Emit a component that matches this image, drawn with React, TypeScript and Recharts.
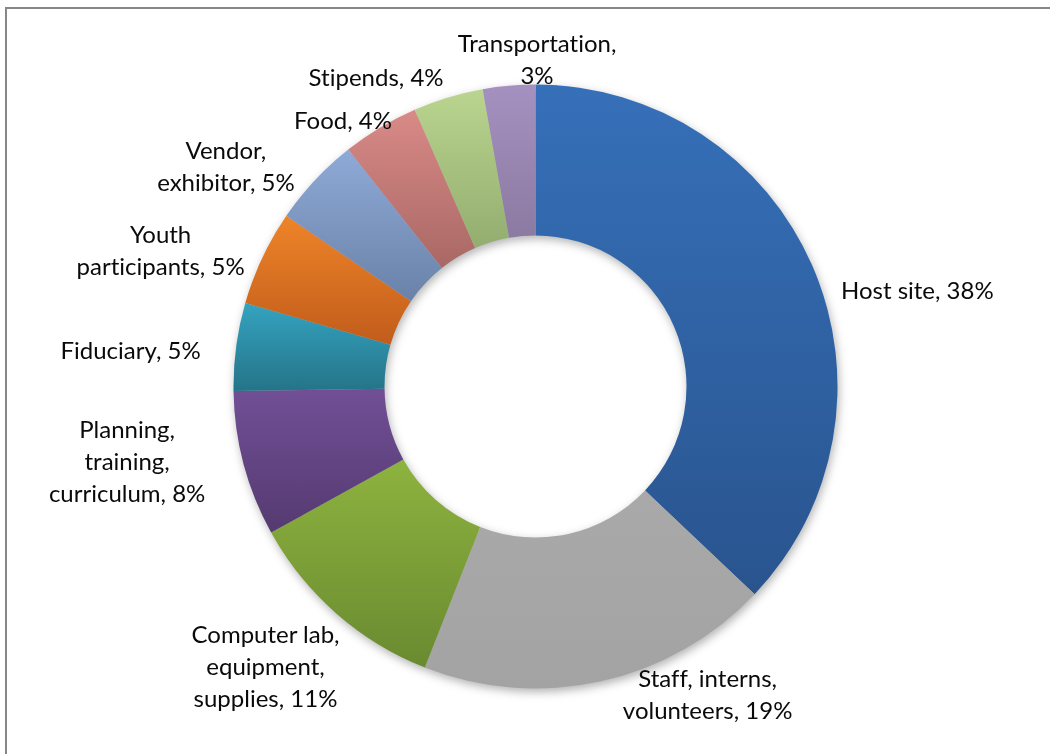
import React from "react";
import { PieChart, Pie, Cell } from "recharts";

// budget shares, clockwise from 12 o'clock
const categories = [
  "Host site",
  "Staff, interns, volunteers",
  "Computer lab, equipment, supplies",
  "Planning, training, curriculum",
  "Fiduciary",
  "Youth participants",
  "Vendor, exhibitor",
  "Food",
  "Stipends",
  "Transportation",
];
const shares = [37.1, 18.9, 11.0, 7.8, 4.7, 5.1, 4.8, 4.1, 3.75, 2.8];
const labelLines = [
  ["Host site, 38%"],
  ["Staff, interns,", "volunteers, 19%"],
  ["Computer lab,", "equipment,", "supplies, 11%"],
  ["Planning,", "training,", "curriculum, 8%"],
  ["Fiduciary, 5%"],
  ["Youth", "participants, 5%"],
  ["Vendor,", "exhibitor, 5%"],
  ["Food, 4%"],
  ["Stipends, 4%"],
  ["Transportation,", "3%"],
];

const data = categories.map((name, i) => ({ name, value: shares[i] }));

// slice gradients (top -> bottom)
const topColors = [
  "#3670b9", "#a9a9a9", "#8db33f", "#714f96", "#34a3c0",
  "#ee8429", "#8eaad7", "#d98a87", "#bad58f", "#a591c0",
];
const bottomColors = [
  "#29548e", "#a3a3a3", "#6a8a30", "#553a70", "#257488",
  "#c15c1b", "#6a82a8", "#a96865", "#92ad6f", "#8b7aa1",
];

// hand placement of Excel's "best fit" labels, relative to mid-angle spot
const labelNudge: [number, number][] = [
  [63, 41], [97, -30], [-41, 20], [-73, -14], [-61, 10],
  [-61, 12], [-56, 17], [-14, 32], [-59, 24], [32, 19],
];

const RAD = Math.PI / 180;
const LINE_H = 32;

const renderLabel = (props: any) => {
  const { cx, cy, midAngle, outerRadius, index } = props;
  const r = outerRadius + 45;
  const [nx, ny] = labelNudge[index];
  const x = cx + r * Math.cos(-midAngle * RAD) + nx;
  const y = cy + r * Math.sin(-midAngle * RAD) + ny;
  const lines = labelLines[index];
  const y0 = y - ((lines.length - 1) * LINE_H) / 2 + 8;
  return (
    <text
      key={`lbl-${index}`}
      x={x}
      y={y0}
      textAnchor="middle"
      fontFamily="Lato, 'Open Sans', sans-serif"
      fontSize={24}
      fill="#0a0a0a"
      style={{ fontVariantLigatures: "none" }}
    >
      {lines.map((l, i) => (
        <tspan key={i} x={x} dy={i === 0 ? 0 : LINE_H}>
          {l}
        </tspan>
      ))}
    </text>
  );
};

export default function App() {
  return (
    <div
      style={{
        position: "fixed",
        left: 0,
        top: 0,
        width: 1050,
        height: 754,
        background: "#fff",
        overflow: "hidden",
      }}
    >
      <style>{`.ring-shadow { filter: url(#ringShadow); }`}</style>
      <div
        style={{
          position: "absolute",
          left: 5,
          top: 7,
          width: 1045,
          height: 747,
          borderTop: "2px solid #878787",
          borderLeft: "2px solid #878787",
          boxSizing: "border-box",
        }}
      />
      <div style={{ position: "absolute", left: 0, top: 0 }}>
        <PieChart
          width={1050}
          height={754}
          margin={{ top: 0, right: 0, bottom: 0, left: 0 }}
        >
          <defs>
            {topColors.map((c, i) => (
              <linearGradient key={i} id={`slice-${i}`} x1="0" y1="0" x2="0" y2="1">
                <stop offset="0%" stopColor={c} />
                <stop offset="100%" stopColor={bottomColors[i]} />
              </linearGradient>
            ))}
            <filter id="ringShadow" x="-10%" y="-10%" width="120%" height="120%">
              <feGaussianBlur stdDeviation="3" />
            </filter>
          </defs>
          <Pie
            className="ring-shadow"
            data={data}
            dataKey="value"
            cx={537}
            cy={390}
            innerRadius={151}
            outerRadius={302}
            startAngle={90}
            endAngle={-270}
            stroke="none"
            fill="#000"
            fillOpacity={0.3}
            label={false}
            labelLine={false}
            isAnimationActive={false}
          />
          <Pie
            data={data}
            dataKey="value"
            nameKey="name"
            cx={535.5}
            cy={386.5}
            innerRadius={151}
            outerRadius={302}
            startAngle={90}
            endAngle={-270}
            stroke="none"
            label={renderLabel}
            labelLine={false}
            isAnimationActive={false}
          >
            {data.map((d, i) => (
              <Cell key={d.name} fill={`url(#slice-${i})`} />
            ))}
          </Pie>
        </PieChart>
      </div>
    </div>
  );
}
